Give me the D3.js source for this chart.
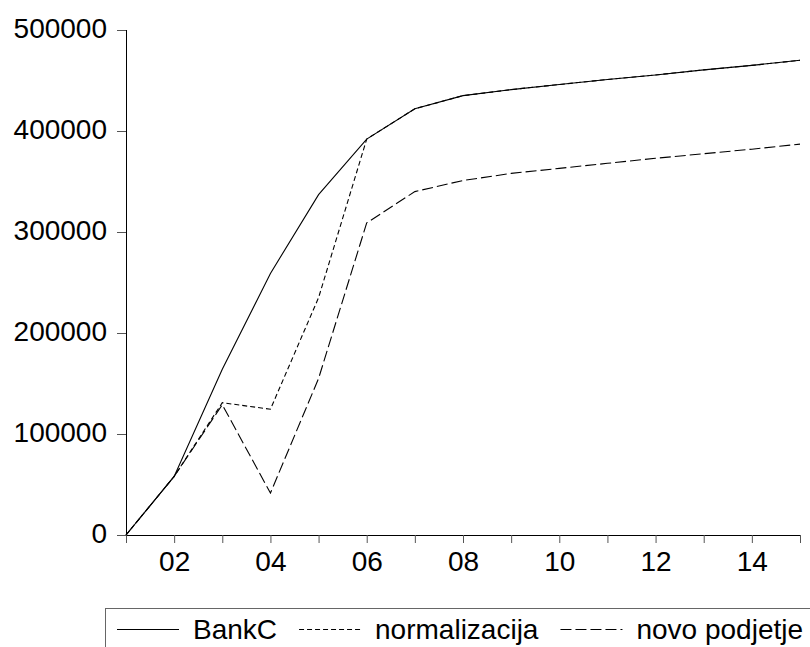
<!DOCTYPE html>
<html>
<head>
<meta charset="utf-8">
<script src="https://cdn.jsdelivr.net/npm/d3@7"></script>
<style>
    body { margin: 0; background: #fff; }
    svg { display: block; font-family: "Liberation Sans", Arial, sans-serif; }
</style>
</head>
<body>
<svg id="chart" width="810" height="647"></svg>
<script>
// data
const years = [2001, 2002, 2003, 2004, 2005, 2006, 2007, 2008, 2009, 2010, 2011, 2012, 2013, 2014, 2015];
const bankC = [0, 58000, 164000, 259000, 337000, 392000, 422000, 435000, 441000, 446000, 451000, 455500, 460500, 465000, 470000];
const normalizacija = [0, 58000, 131000, 124500, 235000, 392000, 422000, 435000, 441000, 446000, 451000, 455500, 460500, 465000, 470000];
const novoPodjetje = [0, 58000, 129000, 41500, 155000, 309000, 340000, 351000, 358000, 363000, 368000, 373000, 377500, 382000, 387000];
const yTicks = [0, 100000, 200000, 300000, 400000, 500000];
const seriesNames = ["BankC", "normalizacija", "novo podjetje"];

const FONT_SIZE = 28;

function ChartController(svg) {
    let x = d3.scaleLinear().domain([2001, 2015]).range([126, 800]);
    let y = d3.scaleLinear().domain([0, 500000]).range([535, 30]);

    let mSeries = [
        { name: seriesNames[0], values: bankC, dash: null },
        { name: seriesNames[1], values: normalizacija, dash: "5,3" },
        { name: seriesNames[2], values: novoPodjetje, dash: "11,4" }
    ];

    let mAxesGroup = svg.append('g').attr("id", 'axes-g');
    let mLineGroup = svg.append('g').attr("id", 'lines-g');
    let mLegendGroup = svg.append('g').attr("id", 'legend-g');

    function drawAxes() {
        let yAxis = d3.axisLeft(y)
            .tickValues(yTicks)
            .tickSize(9)
            .tickPadding(10)
            .tickFormat(d => String(d));
        let yg = mAxesGroup.append('g')
            .attr('transform', 'translate(' + x.range()[0] + ',0)')
            .call(yAxis);
        yg.select('.domain').attr('stroke', '#000').attr('d', 'M0.5,' + y(500000) + 'V' + y(0));
        yg.selectAll('.tick line').attr('stroke', '#555');
        yg.selectAll('.tick text')
            .attr('fill', '#000')
            .attr('dy', '0.26em')
            .style('font-size', FONT_SIZE + 'px');

        let xAxis = d3.axisBottom(x)
            .tickValues(years)
            .tickSize(8)
            .tickPadding(8)
            .tickFormat(d => d % 2 == 0 ? String(d).slice(2) : "");
        let xg = mAxesGroup.append('g')
            .attr('transform', 'translate(0,' + y(0) + ')')
            .call(xAxis);
        xg.select('.domain').attr('stroke', '#000').attr('d', 'M' + x(2001) + ',0.5H' + x(2015));
        xg.selectAll('.tick line').attr('stroke', '#555');
        xg.selectAll('.tick text')
            .attr('fill', '#000')
            .style('font-size', FONT_SIZE + 'px');
    }

    function drawLines() {
        let line = d3.line()
            .x((d, i) => x(years[i]))
            .y(d => y(d));

        mLineGroup.selectAll('.series-line')
            .data(mSeries)
            .enter()
            .append('path')
            .classed('series-line', true)
            .attr('d', d => line(d.values))
            .attr('fill', 'none')
            .attr('stroke', '#000')
            .attr('stroke-width', 1.1)
            .attr('stroke-dasharray', d => d.dash);
    }

    function drawLegend() {
        let top = 608;
        let midY = 629;
        mLegendGroup.append('rect')
            .attr('x', 105.5)
            .attr('y', top + 0.5)
            .attr('width', 760)
            .attr('height', 80)
            .attr('fill', 'none')
            .attr('stroke', '#666')
            .attr('stroke-width', 1);

        let cursor = 117;
        mSeries.forEach(s => {
            mLegendGroup.append('line')
                .attr('x1', cursor)
                .attr('x2', cursor + 62)
                .attr('y1', midY + 0.5)
                .attr('y2', midY + 0.5)
                .attr('stroke', '#000')
                .attr('stroke-width', 1)
                .attr('stroke-dasharray', s.dash);
            cursor += 62 + 14;
            let t = mLegendGroup.append('text')
                .attr('x', cursor)
                .attr('y', 639)
                .style('font-size', FONT_SIZE + 'px')
                .text(s.name);
            cursor += t.node().getComputedTextLength() + 22;
        });
    }

    drawAxes();
    drawLines();
    drawLegend();
}

let svg = d3.select('#chart');
new ChartController(svg);
</script>
</body>
</html>
